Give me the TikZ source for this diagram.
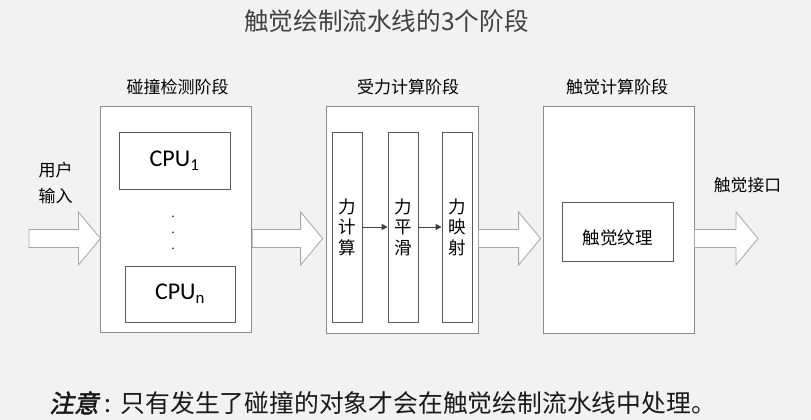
\documentclass[tikz,border=0pt]{standalone}
\usepackage{fontspec}
\setmainfont{Noto Sans CJK SC}
\newfontfamily\latf{Carlito}
\newfontfamily\cjkbi{Noto Sans CJK SC}[FakeSlant=0.2,FakeBold=2]
\usetikzlibrary{calc,arrows.meta}
\definecolor{bg}{HTML}{F2F2F2}
\definecolor{boxgray}{HTML}{8C8C8C}
\definecolor{subgray}{HTML}{595959}
\definecolor{arrgray}{HTML}{A6A6A6}
\definecolor{titlegray}{HTML}{404040}
\newcommand\blkarr[2]{%
  \draw[blk] ($(#1)+(0,-9)$) -- ($(#2)+(-22,-9)$) -- ($(#2)+(-22,-26.5)$) -- (#2)
    -- ($(#2)+(-22,26.5)$) -- ($(#2)+(-22,9)$) -- ($(#1)+(0,9)$) -- cycle;}
\begin{document}
\begin{tikzpicture}[x=1pt,y=-1pt,
  stagebox/.style={draw=boxgray,fill=white,line width=0.8pt,inner sep=0pt},
  subbox/.style={draw=subgray,fill=white,line width=0.7pt,inner sep=0pt},
  blk/.style={draw=arrgray,fill=white,line width=0.8pt,line join=miter},
  lbl/.style={font=\fontsize{17}{20}\selectfont,text=black},
  vtext/.style={subbox,minimum width=30pt,minimum height=190pt,align=center,font=\fontsize{17.5}{20.5}\selectfont},
  cpu/.style={subbox,minimum width=111pt,minimum height=57pt,font=\latf\fontsize{24}{28}\selectfont},
  thin/.style={draw=titlegray,line width=0.9pt,-{Triangle[length=6pt,width=6pt]}}]
\fill[bg] (0,0) rectangle (811,420);
\useasboundingbox (0,0) rectangle (811,420);
% title
\node[font=\fontsize{24.6}{28}\selectfont,text=titlegray] (title) at (386.5,21) {触觉绘制流水线的3个阶段};
% stage boxes
\node[stagebox,minimum width=151pt,minimum height=226pt] (b1) at (176.3,219) {};
\node[stagebox,minimum width=152pt,minimum height=227pt] (b2) at (402,219.5) {};
\node[stagebox,minimum width=151pt,minimum height=227pt] (b3) at (618.5,219.5) {};
% stage labels
\node[lbl] (l1) at (177.5,87) {碰撞检测阶段};
\node[lbl] (l2) at (408,87) {受力计算阶段};
\node[lbl] (l3) at (617,87) {触觉计算阶段};
% stage 1 contents
\node[cpu] (cpu1) at (174.5,160.5) {CPU\textsubscript{1}};
\node[cpu,minimum width=110pt,minimum height=56pt] (cpun) at (180,294) {CPU\textsubscript{n}};
\node[inner sep=0pt,font=\fontsize{12}{16}\selectfont] (d1) at (173,217) {.};
\node[inner sep=0pt,font=\fontsize{12}{16}\selectfont] (d2) at (173,233) {.};
\node[inner sep=0pt,font=\fontsize{12}{16}\selectfont] (d3) at (173,249) {.};
% stage 2 contents
\node[vtext] (f1) at (347,227) {力\\计\\算};
\node[vtext] (f2) at (403,227) {力\\平\\滑};
\node[vtext] (f3) at (457,227) {力\\映\\射};
\draw[thin] (f1.east) -- (f2.west);
\draw[thin] (f2.east) -- (f3.west);
% stage 3 contents
\node[subbox,minimum width=111pt,minimum height=59pt,font=\fontsize{17.5}{20}\selectfont] (tex) at (617.5,231.5) {\raisebox{-13pt}[0pt][0pt]{触觉纹理}};
% block arrows
\coordinate (axis) at (0,238.5);
\coordinate (a1s) at (29,238.5);
\coordinate (a1t) at (b1.west |- axis);
\coordinate (a2s) at (b1.east |- axis);
\coordinate (a2t) at ($(b2.west |- axis)+(-3,0)$);
\coordinate (a3s) at (b2.east |- axis);
\coordinate (a3t) at ($(b3.west |- axis)+(-2,0)$);
\coordinate (a4s) at (b3.east |- axis);
\coordinate (a4t) at (758,238.5);
\blkarr{a1s}{a1t}
\blkarr{a2s}{a2t}
\blkarr{a3s}{a3t}
\blkarr{a4s}{a4t}
% arrow labels
\node[align=center,font=\fontsize{17}{26.5}\selectfont] (uin) at (55.5,183) {用户\\输入};
\node[font=\fontsize{16.8}{20}\selectfont] (hout) at (747.5,185) {触觉接口};
% note
\node[anchor=west,inner sep=0pt,font=\fontsize{24.8}{28}\selectfont,text=black!90] (note) at (49,403) {{\cjkbi 注意}\hspace{6pt}:\hspace{9pt}只有发生了碰撞的对象才会在触觉绘制流水线中处理。};
\end{tikzpicture}
\end{document}
